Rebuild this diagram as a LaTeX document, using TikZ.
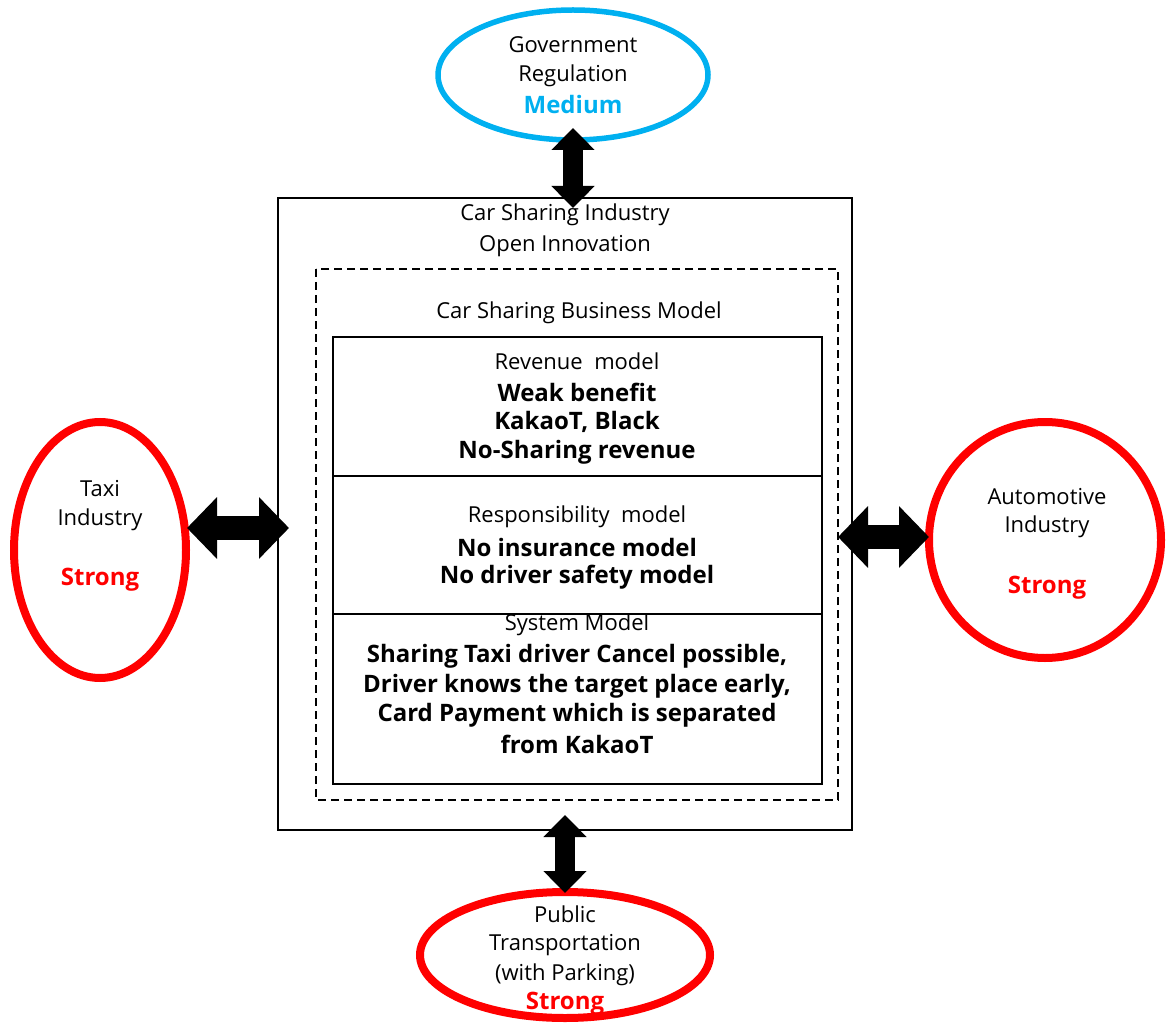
\documentclass[tikz,border=0pt]{standalone}
\usepackage{fontspec}
\setmainfont{Open Sans}
\usetikzlibrary{arrows.meta,shapes.geometric}
\definecolor{govblue}{RGB}{0,176,240}
\definecolor{strongred}{RGB}{255,0,0}
\begin{document}
\begin{tikzpicture}[x=1pt,y=-1pt,
  txt/.style={font=\fontsize{22}{30}\selectfont, align=center, inner sep=0pt, anchor=center},
  btxt/.style={txt, font=\fontsize{24}{30}\selectfont\bfseries},
  oval/.style={draw, ellipse, line width=#1, inner sep=0pt},
  dbl/.style={line width=20pt, {Triangle[width=42pt,length=22pt]}-{Triangle[width=42pt,length=22pt]}},
  hdbl/.style={line width=24pt, {Triangle[width=60pt,length=30pt]}-{Triangle[width=60pt,length=30pt]}},
  boxline/.style={draw, line width=1.6pt}
]
\useasboundingbox (0,0) rectangle (1167,1024);
% ellipses
\node[oval=5.5pt, draw=govblue, minimum width=270pt, minimum height=130pt] (gov) at (573,75) {};
\node[oval=8pt, draw=strongred, minimum width=172pt, minimum height=256pt] (taxi) at (100,550) {};
\node[oval=8pt, draw=strongred, minimum width=232pt, minimum height=236pt] (auto) at (1045,540) {};
\node[oval=8pt, draw=strongred, minimum width=290pt, minimum height=126pt] (pub) at (565,955) {};
% ellipse texts
\node[txt] (govt1) at (573,45) {Government};
\node[txt] (govt2) at (573,76) {Regulation};
\node[btxt, text=govblue] (govt3) at (573,105) {Medium};
\node[txt] (taxit1) at (100,489) {Taxi};
\node[txt] (taxit2) at (100,520) {Industry};
\node[btxt, text=strongred] (taxit3) at (100,580) {Strong};
\node[txt] (autot1) at (1047,497) {Automotive};
\node[txt] (autot2) at (1047,527) {Industry};
\node[btxt, text=strongred] (autot3) at (1047,588) {Strong};
\node[txt] (pubt1) at (565,914) {Public};
\node[txt] (pubt2) at (565,945) {Transportation};
\node[txt] (pubt3) at (565,975) {(with Parking)};
\node[btxt, text=strongred] (pubt4) at (565,1004) {Strong};
% boxes
\node[boxline, minimum width=574pt, minimum height=632pt, inner sep=0pt] (outer) at (565,514) {};
\draw[line width=1.5pt, dash pattern=on 8pt off 5pt] (316,269) rectangle (838,800);
\node[boxline, minimum width=489pt, minimum height=139pt, inner sep=0pt] (rev) at (577.5,406.5) {};
\node[boxline, minimum width=489pt, minimum height=138pt, inner sep=0pt] (resp) at (577.5,545) {};
\node[boxline, minimum width=489pt, minimum height=170pt, inner sep=0pt] (sys) at (577.5,699) {};
% titles
\node[txt] (t1) at (565,215) {Car Sharing Industry};
\node[txt] (t2) at (565,246) {Open Innovation};
\node[txt] (t3) at (579,313) {Car Sharing Business Model};
% revenue
\node[txt] (r1) at (577,361) {Revenue~ model};
\node[btxt] (r2) at (577,392) {Weak benefit};
\node[btxt] (r3) at (577,422) {KakaoT, Black};
\node[btxt] (r4) at (577,452) {No-Sharing revenue};
% responsibility
\node[txt] (p1) at (577,517) {Responsibility~ model};
\node[btxt] (p2) at (577,547) {No insurance model};
\node[btxt] (p3) at (577,577) {No driver safety model};
% system
\node[txt] (s1) at (577,625) {System Model};
\node[btxt] (s2) at (577,656) {Sharing Taxi driver Cancel possible,};
\node[btxt] (s3) at (577,686) {Driver knows the target place early,};
\node[btxt] (s4) at (577,715) {Card Payment which is separated};
\node[btxt] (s5) at (577,744) {from KakaoT};
% arrow endpoints
\coordinate (a1s) at (573,128);
\coordinate (a1e) at (573,208);
\coordinate (a2s) at (187,528);
\coordinate (a2e) at (289,528);
\coordinate (a3s) at (838,537);
\coordinate (a3e) at (929,537);
\coordinate (a4s) at (565,815);
\coordinate (a4e) at (565,893);
\draw[dbl] (a1s) -- (a1e);
\draw[hdbl] (a2s) -- (a2e);
\draw[hdbl] (a3s) -- (a3e);
\draw[dbl] (a4s) -- (a4e);
\end{tikzpicture}
\end{document}
